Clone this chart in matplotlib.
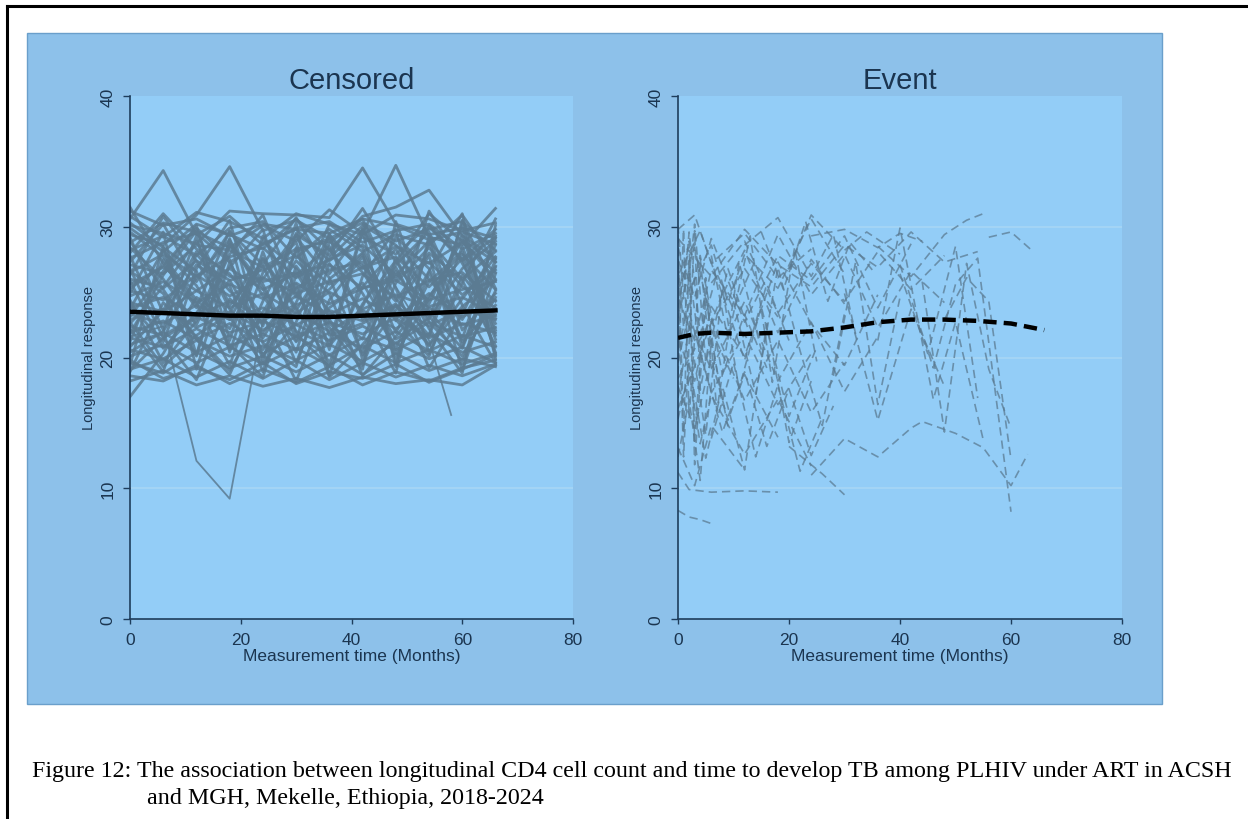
import matplotlib.pyplot as plt
from matplotlib.patches import Rectangle
from matplotlib.lines import Line2D

# censored subjects, measured every 6 months
cens_times = [0, 6, 12, 18, 24, 30, 36, 42, 48, 54, 60, 66]
cens_values = [
    [31.2, 30.1, 30.6, 29.3, 30.2, 29.8, 29.5, 30.6, 30.1, 29.0, 29.6, 28.7],
    [30.6, 34.3, 29.4, 30.8, 28.6, 29.9, 30.4, 28.8, 29.7, 30.2, 28.3, 29.5],
    [29.4, 28.6, 30.9, 34.6, 29.7, 30.5, 29.1, 30.3, 28.9, 29.8, 30.4, 28.2],
    [30.1, 29.5, 28.7, 31.2, 31.0, 30.9, 30.7, 34.5, 30.2, 29.4, 29.9, 29.1],
    [28.8, 30.3, 29.6, 28.4, 30.1, 28.9, 31.3, 29.5, 34.7, 29.2, 28.6, 31.4],
    [29.9, 28.1, 30.2, 29.4, 28.3, 30.6, 28.2, 30.8, 31.5, 32.8, 29.3, 27.6],
    [28.2, 29.3, 27.8, 29.9, 30.4, 27.6, 29.8, 28.1, 29.4, 28.6, 30.9, 27.3],
    [27.6, 28.8, 29.5, 27.3, 28.7, 29.8, 27.4, 29.2, 27.9, 30.1, 27.5, 29.8],
    [27.1, 26.4, 28.6, 28.2, 26.9, 28.3, 28.9, 26.8, 28.5, 27.2, 28.8, 26.5],
    [26.5, 27.9, 26.2, 27.7, 28.4, 26.1, 27.5, 28.6, 26.3, 28.9, 26.0, 28.1],
    [26.0, 25.3, 27.4, 25.9, 26.7, 27.8, 25.6, 26.9, 27.7, 25.4, 27.9, 25.2],
    [25.6, 26.9, 25.1, 26.8, 25.2, 26.4, 27.1, 25.3, 26.2, 27.3, 24.8, 26.7],
    [25.1, 24.4, 26.3, 24.7, 26.1, 24.9, 25.8, 26.4, 24.6, 25.9, 26.5, 24.3],
    [24.7, 25.8, 24.2, 25.6, 24.5, 25.7, 24.1, 25.3, 25.9, 24.4, 25.2, 25.8],
    [24.2, 23.5, 25.1, 23.8, 24.9, 23.4, 25.0, 23.7, 24.8, 23.9, 24.6, 23.3],
    [23.8, 24.6, 23.2, 24.3, 23.1, 24.7, 23.3, 24.5, 23.0, 24.9, 23.1, 24.4],
    [23.3, 22.6, 24.0, 22.9, 23.8, 22.5, 23.6, 22.8, 23.9, 22.4, 23.7, 22.9],
    [22.9, 23.7, 22.3, 23.5, 22.1, 23.4, 22.0, 23.6, 22.2, 23.8, 22.5, 23.2],
    [22.4, 21.7, 23.1, 21.9, 22.8, 21.6, 22.7, 21.8, 23.0, 21.5, 22.6, 21.9],
    [21.9, 22.8, 21.4, 22.6, 21.2, 22.5, 21.3, 22.4, 21.1, 22.7, 21.6, 22.3],
    [21.5, 20.8, 22.2, 20.9, 21.8, 20.6, 21.9, 20.7, 22.0, 20.5, 21.7, 20.8],
    [21.0, 21.9, 20.4, 21.7, 20.3, 21.6, 20.2, 21.5, 20.6, 21.8, 20.4, 21.2],
    [20.6, 19.9, 21.3, 20.1, 20.9, 19.8, 21.0, 19.7, 21.1, 19.9, 20.8, 19.6],
    [20.1, 21.0, 19.6, 20.8, 19.5, 20.7, 19.4, 20.9, 19.6, 20.6, 19.5, 20.3],
    [19.6, 18.8, 20.4, 19.2, 20.1, 18.9, 20.2, 18.7, 20.3, 19.0, 19.9, 19.3],
    [19.1, 19.9, 18.5, 19.7, 18.4, 19.8, 18.3, 19.6, 18.5, 19.4, 18.6, 19.5],
    [18.6, 18.2, 19.4, 18.0, 19.1, 18.1, 19.3, 17.9, 18.9, 18.2, 19.2, 19.8],
    [18.2, 19.0, 17.9, 18.6, 17.8, 18.4, 17.7, 18.5, 18.0, 18.3, 17.9, 19.4],
    [27.8, 22.1, 29.3, 20.4, 28.1, 21.3, 29.5, 19.8, 27.6, 22.9, 30.2, 20.1],
    [19.4, 28.5, 20.2, 29.1, 19.7, 28.4, 20.6, 29.7, 19.3, 28.9, 20.8, 27.5],
    [24.9, 29.6, 19.1, 27.3, 22.4, 30.3, 18.6, 26.2, 29.8, 20.3, 25.7, 30.6],
    [22.2, 18.9, 26.8, 30.5, 21.1, 19.3, 27.2, 23.4, 18.8, 29.3, 22.1, 24.9],
    [28.9, 25.2, 21.4, 18.7, 24.3, 29.2, 26.1, 20.2, 23.6, 27.8, 19.0, 26.4],
    [17.0, 20.3, 24.6, 22.9, 27.6, 23.8, 19.6, 25.4, 28.3, 24.1, 29.4, 21.7],
    [26.3, 30.8, 27.4, 23.1, 19.5, 22.7, 28.8, 30.6, 25.3, 19.2, 23.3, 28.6],
    [20.8, 23.6, 28.1, 26.4, 23.2, 18.2, 24.4, 27.7, 21.9, 26.6, 31.0, 19.9],
    [31.5, 27.2, 23.8, 29.7, 25.8, 26.5, 22.3, 19.1, 30.4, 23.5, 20.7, 26.9],
    [23.1, 26.6, 30.1, 21.3, 29.3, 24.6, 30.2, 28.4, 22.8, 31.2, 27.2, 22.6],
    [29.2, 23.4, 27.1, 25.5, 18.9, 27.0, 23.5, 21.4, 26.9, 22.2, 18.8, 30.1],
    [24.4, 19.6, 22.8, 28.7, 25.6, 20.4, 28.3, 24.9, 20.7, 25.8, 28.1, 21.4],
    [21.2, 27.5, 24.1, 19.4, 26.5, 28.8, 21.7, 22.6, 24.1, 21.0, 24.5, 27.7],
    [26.8, 21.5, 18.3, 24.5, 21.9, 25.3, 26.7, 27.3, 19.8, 26.5, 21.2, 24.0],
    [30.8, 29.2, 31.1, 30.4, 29.1, 31.0, 30.2, 29.4, 30.9, 30.6, 29.7, 30.3],
    [19.8, 18.4, 19.2, 18.3, 19.6, 18.0, 18.9, 18.4, 19.5, 18.1, 19.1, 20.2],
    [27.3, 30.2, 25.8, 29.6, 27.1, 30.7, 26.4, 29.8, 25.9, 30.0, 27.4, 29.2],
    [22.6, 25.4, 28.9, 23.7, 20.6, 24.2, 29.4, 26.5, 22.9, 20.1, 26.3, 23.0],
    [25.9, 20.7, 23.4, 26.9, 29.8, 21.8, 19.3, 24.1, 27.4, 23.2, 19.7, 25.1],
    [18.9, 24.2, 21.6, 19.0, 23.5, 27.4, 24.9, 18.6, 21.6, 24.7, 27.6, 20.4],
    [28.4, 26.0, 22.5, 27.9, 30.9, 25.0, 21.1, 29.9, 24.5, 21.7, 30.5, 25.3],
    [23.7, 28.2, 25.5, 21.0, 18.5, 26.3, 28.5, 22.9, 27.1, 29.6, 24.0, 19.6],
    [20.4, 22.0, 26.1, 29.0, 24.7, 21.2, 23.8, 25.7, 21.4, 23.0, 26.8, 28.9],
    [29.6, 27.7, 24.4, 22.2, 27.5, 23.6, 27.6, 30.1, 28.6, 26.0, 22.9, 27.0],
    [24.0, 21.2, 27.9, 25.1, 22.6, 29.5, 22.9, 19.4, 25.7, 28.4, 25.4, 23.8],
    [26.6, 24.9, 20.1, 28.6, 25.3, 19.6, 26.0, 28.0, 23.3, 21.6, 28.5, 22.1],
    [21.8, 26.3, 29.7, 24.0, 27.0, 22.0, 20.9, 23.9, 29.2, 26.8, 21.4, 29.3],
    [30.3, 28.4, 26.6, 20.6, 23.0, 28.1, 29.1, 27.0, 24.3, 28.0, 25.9, 20.9],
    [19.0, 21.5, 23.0, 25.9, 21.5, 25.6, 18.5, 21.0, 24.0, 20.9, 23.9, 25.9],
    [25.3, 27.0, 29.9, 27.5, 20.1, 24.0, 25.2, 27.9, 20.3, 24.5, 29.0, 27.3],
    [22.7, 19.3, 21.7, 23.3, 28.9, 26.8, 22.6, 20.4, 26.6, 22.7, 20.1, 24.6],
    [28.0, 31.0, 28.3, 26.2, 26.0, 29.4, 27.8, 31.4, 27.3, 31.0, 28.9, 26.0],
]
# two censored subjects with unusual paths
cens_odd_times = [[0, 6, 12, 18, 24, 30], [42, 48, 54, 58]]
cens_odd_values = [[21.6, 22.4, 12.1, 9.2, 22.8, 24.1], [30.2, 25.4, 21.3, 15.6]]
cens_mean = [23.5, 23.4, 23.3, 23.2, 23.2, 23.1, 23.1, 23.2, 23.3, 23.4, 23.5, 23.6]

# event subjects, irregular visits
event_times = [
    [0, 3, 6, 12, 18, 24], [0, 2, 6, 9, 12, 18, 24, 30], [0, 3, 6, 12, 18],
    [0, 2, 4, 8, 12, 16, 20], [0, 3, 6, 12, 18, 24, 30, 36], [0, 2, 6, 12, 18, 24],
    [0, 3, 6, 9, 12, 18], [0, 2, 4, 6, 12, 18, 24], [0, 3, 6, 12], [0, 2, 4, 6],
    [0, 2, 6, 12, 18], [0, 3, 6, 12, 18, 24, 30, 36, 42], [0, 4, 8, 12, 18, 24, 30],
    [0, 3, 6, 12, 18, 24, 30, 36, 42, 48], [2, 6, 12, 18, 24, 30, 36],
    [0, 6, 12, 18, 24, 30], [0, 4, 8, 12, 16, 20, 24, 28],
    [0, 6, 12, 18, 24, 30, 36, 42, 48, 54], [6, 12, 18, 24, 30, 36, 42, 48],
    [36, 42, 48, 52, 55], [56, 60, 64], [20, 24, 30, 34, 40], [24, 30, 36, 40, 44],
    [24, 30, 36, 42, 44, 50, 55, 60, 63], [20, 26, 30], [36, 40, 46, 50, 55],
    [40, 46, 50, 54, 60], [44, 48, 52, 56, 60], [28, 32, 36, 40], [30, 36, 42, 48],
    [40, 45, 50, 54], [12, 18, 24, 28, 32], [6, 10, 14, 18, 22, 26],
    [0, 2, 4, 8, 12, 16], [0, 1, 3, 5, 9, 13], [0, 2, 4, 6, 9], [48, 52, 56, 60],
    [0, 1, 2, 4, 7, 10, 14], [0, 2, 5, 8, 11, 15, 20, 25],
    [0, 1, 2, 3, 5, 8], [0, 1, 3, 4, 6, 10], [0, 2, 3, 5, 7, 11, 15], [0, 1, 2, 4, 6],
    [6, 9, 13, 17, 21, 25], [10, 14, 18, 22, 26, 30], [2, 5, 8, 12, 16, 20, 24],
    [15, 19, 23, 27, 31, 35],
]
event_values = [
    [29.8, 30.9, 27.2, 29.5, 26.1, 28.3], [27.5, 25.1, 28.6, 24.2, 27.9, 25.3, 30.6, 26.4],
    [25.2, 28.4, 22.6, 26.8, 23.1], [23.0, 26.7, 20.4, 24.9, 19.8, 25.6, 21.3],
    [21.4, 18.2, 23.9, 20.1, 27.3, 22.6, 19.4, 24.8], [19.6, 23.5, 17.3, 21.8, 16.4, 20.3],
    [17.8, 14.6, 19.9, 15.2, 18.7, 13.9], [15.3, 18.9, 13.4, 17.1, 12.6, 16.8, 11.7],
    [13.1, 10.2, 14.8, 11.4], [8.3, 7.8, 7.6, 7.3],
    [11.2, 9.9, 9.7, 9.8, 9.7], [28.4, 24.6, 29.1, 22.7, 27.8, 25.9, 29.3, 23.8, 28.7],
    [26.3, 29.7, 24.8, 28.2, 21.9, 27.5, 24.1],
    [24.6, 21.3, 26.7, 23.2, 29.4, 24.8, 27.9, 22.3, 26.6, 24.2],
    [22.8, 19.1, 24.3, 18.2, 22.7, 17.4, 21.6],
    [18.4, 22.9, 16.7, 21.3, 15.8, 19.6], [16.1, 20.4, 14.3, 18.9, 13.2, 17.6, 12.5, 16.3],
    [29.1, 26.2, 29.8, 27.1, 25.4, 28.6, 26.9, 29.6, 27.3, 28.1],
    [25.7, 28.9, 23.4, 27.2, 24.3, 28.1, 25.2, 27.8],
    [28.5, 26.2, 29.4, 30.5, 31.0], [29.2, 29.6, 28.1], [26.8, 30.9, 28.2, 29.6, 27.9],
    [29.3, 29.8, 28.4, 29.5, 28.9],
    [11.0, 13.8, 12.4, 14.6, 15.1, 14.2, 13.1, 10.2, 12.6], [13.2, 11.1, 9.5],
    [21.3, 29.9, 16.8, 22.7, 13.7], [27.1, 19.2, 25.6, 27.6, 8.2],
    [25.8, 14.3, 27.2, 19.1, 14.6], [18.6, 27.3, 16.4, 24.6], [24.9, 15.2, 23.7, 17.8],
    [26.4, 20.3, 28.5, 16.9], [28.6, 30.7, 26.2, 29.4, 21.8],
    [13.8, 19.6, 12.4, 17.9, 11.3, 15.4],
    [20.6, 24.1, 27.8, 18.7, 23.3, 19.2], [27.1, 22.4, 30.2, 19.6, 26.8, 21.7],
    [12.4, 16.8, 10.6, 21.3, 14.7], [22.9, 26.1, 24.3, 12.2],
    [30.1, 24.5, 29.6, 21.8, 26.4, 23.7, 27.5], [16.9, 22.4, 14.1, 25.3, 17.6, 23.9, 15.5, 20.8],
    [29.4, 14.2, 27.5, 11.8, 24.6, 16.3], [26.2, 12.4, 29.7, 17.5, 22.1, 18.4],
    [23.8, 28.9, 13.6, 26.1, 15.9, 27.3, 20.6], [18.7, 29.8, 15.4, 27.6, 19.2],
    [27.8, 21.4, 29.3, 18.1, 28.4, 19.7], [24.3, 17.2, 26.9, 20.5, 14.8, 23.4],
    [19.6, 12.3, 17.8, 11.4, 22.6, 13.5, 18.2], [29.6, 25.2, 30.4, 24.3, 28.8, 26.7],
]
event_mean_times = [0, 3, 6, 12, 18, 24, 30, 36, 42, 48, 54, 60, 66]
event_mean = [21.5, 21.8, 21.9, 21.8, 21.9, 22.0, 22.3, 22.7, 22.9, 22.9, 22.8, 22.6, 22.1]

panel_titles = ["Censored", "Event"]
x_ticks = [0, 20, 40, 60, 80]
y_ticks = [0, 10, 20, 30, 40]

outer_bg = "#8dc1ea"
inner_bg = "#93cdf7"
txt = "#1b3550"
gray = "#5b7b92"

plt.rcParams["font.family"] = ["Liberation Sans", "DejaVu Sans"]

fig = plt.figure(figsize=(12.48, 8.2), dpi=100)

# blue graph region and the page frame
fig.patches.append(Rectangle((27 / 1248, 1 - 705 / 820), 1135 / 1248, 671 / 820,
                             transform=fig.transFigure, facecolor=outer_bg,
                             edgecolor="#6a9fcb", linewidth=1, zorder=-10))
fig.lines.append(Line2D([7 / 1248, 7 / 1248], [0, 1 - 7 / 820], transform=fig.transFigure,
                        color="black", linewidth=2.2))
fig.lines.append(Line2D([7 / 1248, 1], [1 - 7 / 820, 1 - 7 / 820], transform=fig.transFigure,
                        color="black", linewidth=2.2))

ax1 = fig.add_axes([130 / 1248, 200 / 820, 443 / 1248, 523 / 820])
ax2 = fig.add_axes([678 / 1248, 200 / 820, 444 / 1248, 523 / 820])

for ax, title in zip([ax1, ax2], panel_titles):
    ax.set_facecolor(inner_bg)
    ax.set_xlim(0, 80)
    ax.set_ylim(0, 40)
    for g in [10, 20, 30]:
        ax.axhline(g, color="#a7d6f5", linewidth=1.2, zorder=1)
    ax.spines["top"].set_visible(False)
    ax.spines["right"].set_visible(False)
    for s in ["left", "bottom"]:
        ax.spines[s].set_color("#1e3d5c")
        ax.spines[s].set_linewidth(1.2)
    ax.set_xticks(x_ticks)
    ax.set_yticks(y_ticks)
    ax.tick_params(axis="x", colors="#1e3d5c", labelcolor=txt, length=3.5, width=1,
                   labelsize=12.5, pad=6)
    ax.tick_params(axis="y", colors="#1e3d5c", labelcolor=txt, length=5, width=1,
                   labelsize=12.5, pad=5.5)
    for lab in ax.get_yticklabels():
        lab.set_rotation(90)
        lab.set_va("center")
    ax.set_xlabel("Measurement time (Months)", fontsize=12.5, color=txt, labelpad=0.5)
    ax.set_ylabel("Longitudinal response", fontsize=10.5, color=txt, labelpad=3)
    ax.set_title(title, fontsize=21, color=txt, pad=6)

for vals in cens_values:
    ax1.plot(cens_times, vals, color=gray, alpha=0.85, linewidth=2.0, zorder=2)
for t, vals in zip(cens_odd_times, cens_odd_values):
    ax1.plot(t, vals, color=gray, alpha=0.85, linewidth=1.3, zorder=2)
ax1.plot(cens_times, cens_mean, color="black", linewidth=3.2, zorder=4)

for t, vals in zip(event_times, event_values):
    ax2.plot(t, vals, color=gray, alpha=0.75, linewidth=1.2, dashes=(5, 3), zorder=2)
ax2.plot(event_mean_times, event_mean, color="black", linewidth=3.2, dashes=(3, 1.6), zorder=4)

fig.text(32 / 1248, 1 - 772 / 820,
         "Figure 12: The association between longitudinal CD4 cell count and time to develop "
         "TB among PLHIV under ART in ACSH",
         family="Liberation Serif", fontsize=17.3, color="black", va="center")
fig.text(147 / 1248, 1 - 799 / 820, "and MGH, Mekelle, Ethiopia, 2018-2024",
         family="Liberation Serif", fontsize=17.3, color="black", va="center")

fig.savefig("out.png", dpi=100)
